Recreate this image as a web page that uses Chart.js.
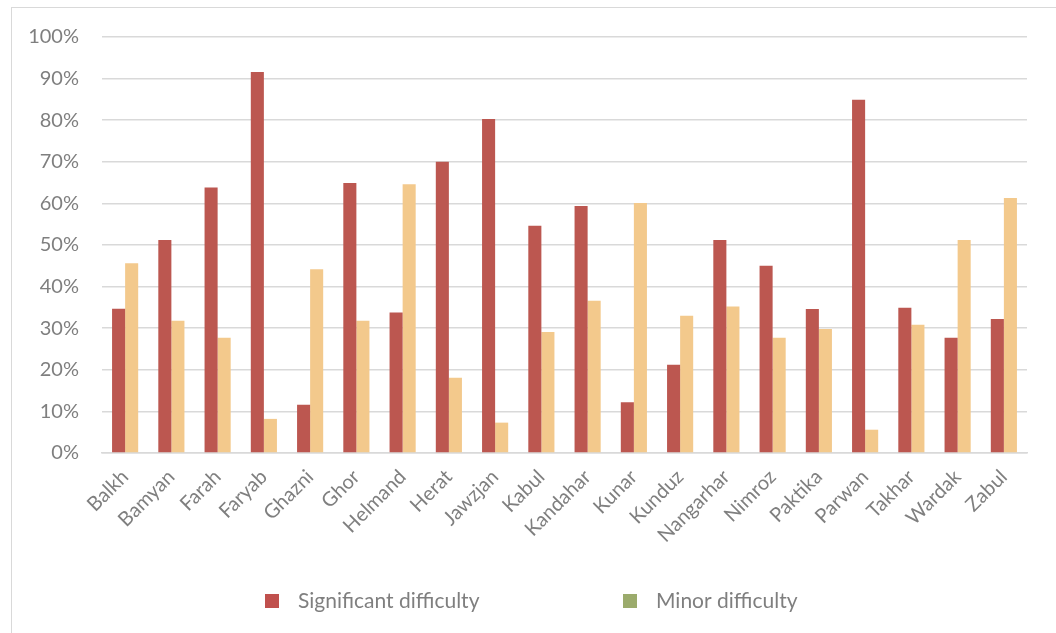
<!DOCTYPE html>
<html>
<head>
<meta charset="utf-8">
<script src="https://cdn.jsdelivr.net/npm/chart.js@4/dist/chart.umd.min.js"></script>
<style>
  html, body { margin: 0; padding: 0; background: #fff; overflow: hidden; }
  #wrap { position: relative; width: 1056px; height: 633px; }
  #frame { position: absolute; left: 11px; top: 7px; width: 1100px; height: 700px; border: 1.5px solid #d9d9d9; box-sizing: border-box; }
  canvas { position: absolute; left: 0; top: 0; }
</style>
</head>
<body>
<div id="wrap">
  <div id="frame"></div>
  <canvas id="chart" width="1056" height="633"></canvas>
</div>
<script>
const provinces = ['Balkh', 'Bamyan', 'Farah', 'Faryab', 'Ghazni', 'Ghor', 'Helmand', 'Herat', 'Jawzjan', 'Kabul',
  'Kandahar', 'Kunar', 'Kunduz', 'Nangarhar', 'Nimroz', 'Paktika', 'Parwan', 'Takhar', 'Wardak', 'Zabul'];
const significant = [34.7, 51.2, 63.8, 91.6, 11.6, 64.9, 33.8, 70.0, 80.3, 54.6,
  59.4, 12.2, 21.2, 51.2, 45.0, 34.6, 84.9, 34.9, 27.7, 32.2];
const minor = [45.6, 31.8, 27.7, 8.2, 44.2, 31.8, 64.6, 18.1, 7.3, 29.1,
  36.6, 60.1, 33.0, 35.2, 27.7, 29.8, 5.6, 30.8, 51.2, 61.3];
const seriesNames = ['Significant difficulty', 'Minor difficulty'];
// the legend swatch for the second series is green in the original, not the bar colour
const legendColors = ['#c0504d', '#9bab6c'];

const FONT = 'Lato, "Open Sans", sans-serif';
const GREY = '#7f7f7f';

// hand-placed legend under the plot, boxes at fixed x like the original
const legendPlugin = {
  id: 'bottomLegend',
  afterDraw(chart) {
    const ctx = chart.ctx;
    const xs = [265, 623];
    const y = 601;
    ctx.save();
    ctx.font = '21px ' + FONT;
    ctx.textBaseline = 'middle';
    seriesNames.forEach((name, i) => {
      ctx.fillStyle = legendColors[i];
      ctx.fillRect(xs[i], y - 7, 14, 14);
      ctx.fillStyle = GREY;
      ctx.fillText(name, xs[i] + 33, y);
    });
    ctx.restore();
  },
};

new Chart(document.getElementById('chart'), {
  type: 'bar',
  data: {
    labels: provinces,
    datasets: [
      { label: seriesNames[0], data: significant, backgroundColor: '#bc5750' },
      { label: seriesNames[1], data: minor, backgroundColor: '#f3c98c' },
    ],
  },
  options: {
    responsive: false,
    animation: false,
    layout: { padding: { top: 37, right: 29, left: 0, bottom: 0 } },
    datasets: { bar: { barPercentage: 1, categoryPercentage: 0.565 } },
    plugins: { legend: { display: false }, tooltip: { enabled: false } },
    scales: {
      x: {
        grid: { display: false },
        border: { display: true, color: '#d9d9d9', width: 1.5 },
        ticks: {
          color: GREY,
          font: { family: FONT, size: 20 },
          minRotation: 45,
          maxRotation: 45,
          padding: 4,
          autoSkip: false,
        },
        afterFit(scale) { scale.height = 180; },
      },
      y: {
        min: 0,
        max: 100,
        border: { display: false },
        grid: { color: '#d9d9d9', lineWidth: 1.5, drawTicks: false },
        ticks: {
          stepSize: 10,
          color: GREY,
          font: { family: FONT, size: 20 },
          padding: 23,
          callback: (v) => v + '%',
        },
        afterFit(scale) { scale.width = 102; },
      },
    },
  },
  plugins: [legendPlugin],
});
</script>
</body>
</html>
